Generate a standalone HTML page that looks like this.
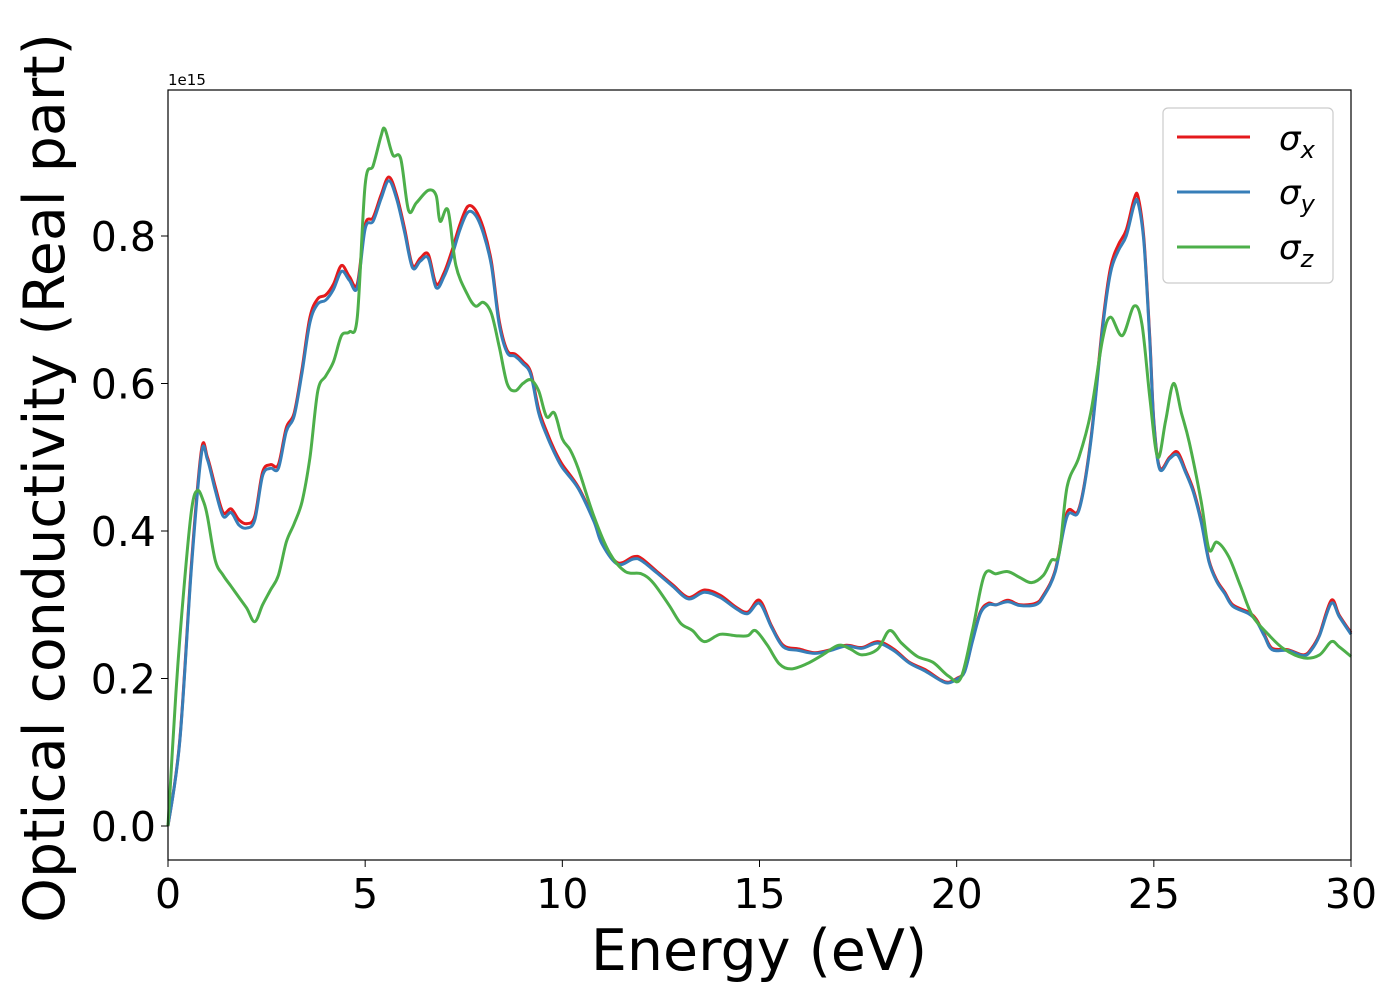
<!DOCTYPE html>
<html><head><meta charset="utf-8"><style>
body{margin:0;background:#fff;}
svg text{font-family:"DejaVu Sans","Liberation Sans",sans-serif;fill:#000;}
</style></head><body>
<svg id="chart" width="1400" height="1000" xmlns="http://www.w3.org/2000/svg">
<rect width="1400" height="1000" fill="#fff"/>
<g id="series"></g>
<rect x="168" y="90" width="1183" height="770" fill="none" stroke="#000" stroke-width="1.2"/>
<g id="xticks"></g>
<g id="yticks"></g>
<text x="168" y="85" font-size="15">1e15</text>
<text x="759" y="970" font-size="57" text-anchor="middle">Energy (eV)</text>
<text transform="translate(64,478) rotate(-90)" font-size="57" text-anchor="middle">Optical conductivity (Real part)</text>
<g>
<rect x="1163" y="108" width="170" height="175" rx="5" fill="#fff" stroke="#ccc" stroke-width="1.2"/>
<line x1="1177" y1="137" x2="1250" y2="137" stroke="#e41a1c" stroke-width="3"/>
<text x="1279" y="150" font-size="34" font-style="italic">σ<tspan font-size="24" dy="8">x</tspan></text>
<line x1="1177" y1="192" x2="1250" y2="192" stroke="#377eb8" stroke-width="3"/>
<text x="1279" y="204" font-size="34" font-style="italic">σ<tspan font-size="24" dy="8">y</tspan></text>
<line x1="1177" y1="247" x2="1250" y2="247" stroke="#4daf4a" stroke-width="3"/>
<text x="1279" y="259" font-size="34" font-style="italic">σ<tspan font-size="24" dy="8">z</tspan></text>
</g>
</svg>
<script>
const xEnergy=[0,0.3,0.6,0.85,1.0,1.2,1.4,1.6,1.8,2.0,2.2,2.4,2.6,2.8,3.0,3.2,3.4,3.6,3.8,4.0,4.2,4.4,4.6,4.8,5.0,5.2,5.4,5.6,5.8,6.0,6.2,6.4,6.6,6.8,7.0,7.2,7.4,7.6,7.8,8.0,8.2,8.4,8.6,8.8,9.0,9.2,9.4,9.6,9.8,10.0,10.4,10.8,11.0,11.4,11.8,12.0,12.4,12.8,13.2,13.6,14.0,14.4,14.7,15.0,15.3,15.6,16.0,16.4,16.8,17.2,17.6,18.0,18.4,18.8,19.2,19.6,19.8,20.0,20.2,20.4,20.6,20.8,21.0,21.3,21.6,22.0,22.2,22.5,22.8,23.1,23.4,23.7,23.9,24.1,24.3,24.5,24.6,24.75,24.9,25.0,25.15,25.4,25.6,25.8,26.0,26.2,26.4,26.6,26.8,27.0,27.4,27.6,27.8,28.0,28.4,28.8,29.0,29.2,29.5,29.7,30.0];
const sigmaX=[0,0.117,0.36,0.51,0.5,0.46,0.425,0.43,0.415,0.41,0.42,0.48,0.49,0.49,0.54,0.56,0.62,0.69,0.715,0.72,0.735,0.76,0.745,0.735,0.815,0.825,0.855,0.88,0.855,0.81,0.76,0.77,0.775,0.735,0.75,0.78,0.815,0.84,0.835,0.81,0.765,0.685,0.645,0.64,0.63,0.615,0.565,0.535,0.51,0.49,0.46,0.415,0.385,0.357,0.365,0.363,0.345,0.327,0.31,0.32,0.313,0.297,0.29,0.306,0.272,0.245,0.24,0.235,0.239,0.245,0.242,0.25,0.24,0.222,0.212,0.198,0.195,0.2,0.21,0.252,0.29,0.302,0.3,0.306,0.3,0.302,0.313,0.347,0.425,0.43,0.523,0.68,0.757,0.788,0.808,0.85,0.853,0.795,0.66,0.55,0.486,0.5,0.507,0.483,0.456,0.415,0.36,0.333,0.317,0.3,0.29,0.28,0.26,0.241,0.239,0.232,0.241,0.26,0.306,0.286,0.262];
const sigmaY=[0,0.115,0.355,0.505,0.497,0.455,0.42,0.425,0.408,0.404,0.415,0.475,0.485,0.485,0.535,0.556,0.615,0.683,0.708,0.713,0.728,0.752,0.74,0.73,0.81,0.82,0.85,0.875,0.85,0.805,0.757,0.766,0.77,0.73,0.745,0.773,0.808,0.832,0.828,0.803,0.76,0.68,0.642,0.637,0.627,0.612,0.56,0.53,0.506,0.486,0.458,0.413,0.383,0.355,0.362,0.36,0.343,0.325,0.308,0.317,0.31,0.295,0.288,0.302,0.27,0.243,0.238,0.234,0.238,0.244,0.241,0.248,0.238,0.221,0.21,0.197,0.194,0.199,0.209,0.25,0.288,0.3,0.3,0.304,0.299,0.3,0.311,0.345,0.42,0.428,0.52,0.675,0.75,0.78,0.8,0.842,0.845,0.79,0.655,0.547,0.484,0.498,0.503,0.48,0.453,0.412,0.358,0.331,0.315,0.298,0.288,0.278,0.258,0.239,0.238,0.231,0.239,0.258,0.302,0.284,0.26];
const zEnergy=[0,0.2,0.4,0.6,0.75,0.9,1.0,1.2,1.4,1.6,1.8,2.0,2.2,2.4,2.6,2.8,3.0,3.2,3.4,3.6,3.8,4.0,4.2,4.4,4.6,4.8,5.0,5.2,5.4,5.5,5.7,5.9,6.1,6.3,6.6,6.8,6.9,7.1,7.3,7.6,7.8,8.0,8.2,8.4,8.6,8.8,9.0,9.2,9.4,9.6,9.8,10.0,10.2,10.4,10.8,11.2,11.6,12.0,12.3,12.7,13.0,13.3,13.6,14.0,14.4,14.7,14.9,15.2,15.5,15.8,16.2,16.6,17.0,17.3,17.6,18.0,18.3,18.6,19.0,19.4,19.8,20.1,20.4,20.7,21.0,21.3,21.6,21.9,22.2,22.4,22.6,22.8,23.1,23.4,23.7,23.9,24.2,24.5,24.7,24.9,25.1,25.3,25.5,25.7,25.9,26.2,26.4,26.6,26.9,27.2,27.5,27.9,28.3,28.8,29.2,29.5,29.7,30.0];
const sigmaZ=[0,0.18,0.32,0.43,0.455,0.44,0.42,0.36,0.34,0.325,0.31,0.295,0.277,0.3,0.32,0.34,0.385,0.41,0.44,0.5,0.59,0.61,0.63,0.665,0.67,0.69,0.87,0.895,0.935,0.945,0.91,0.905,0.835,0.845,0.862,0.855,0.82,0.835,0.76,0.72,0.705,0.71,0.695,0.65,0.6,0.59,0.6,0.605,0.59,0.555,0.56,0.525,0.51,0.485,0.42,0.37,0.345,0.342,0.33,0.3,0.275,0.265,0.25,0.26,0.258,0.258,0.265,0.245,0.22,0.213,0.22,0.232,0.245,0.24,0.232,0.24,0.265,0.248,0.23,0.222,0.203,0.2,0.265,0.34,0.342,0.345,0.337,0.33,0.34,0.36,0.37,0.46,0.5,0.56,0.66,0.69,0.665,0.705,0.68,0.58,0.5,0.55,0.6,0.56,0.52,0.44,0.375,0.385,0.365,0.325,0.285,0.26,0.24,0.228,0.232,0.25,0.243,0.23];
const xTicks=[0,5,10,15,20,25,30];
const yTicks=[0,0.2,0.4,0.6,0.8];
const yTickLabels=["0.0","0.2","0.4","0.6","0.8"];

const NS="http://www.w3.org/2000/svg";
const X0=168,X1=1351,Y0=826,PX_PER=737.5;
function xs(v){return X0+(v-0)/30*(X1-X0);}
function ys(v){return Y0-v*PX_PER;}
function pathFor(xa,ya){
  const p=xa.map((x,i)=>[xs(x),ys(ya[i])]);
  let d="M"+p[0][0].toFixed(1)+","+p[0][1].toFixed(1);
  for(let i=0;i<p.length-1;i++){
    const a=p[Math.max(i-1,0)],b=p[i],c=p[i+1],e=p[Math.min(i+2,p.length-1)];
    const c1=[b[0]+(c[0]-a[0])/6,b[1]+(c[1]-a[1])/6];
    const c2=[c[0]-(e[0]-b[0])/6,c[1]-(e[1]-b[1])/6];
    d+=" C"+c1[0].toFixed(1)+","+c1[1].toFixed(1)+" "+c2[0].toFixed(1)+","+c2[1].toFixed(1)+" "+c[0].toFixed(1)+","+c[1].toFixed(1);
  }
  return d;
}
const sg=document.getElementById("series");
function addLine(xa,ya,color,name){
  const el=document.createElementNS(NS,"path");
  el.setAttribute("d",pathFor(xa,ya));
  el.setAttribute("fill","none");
  el.setAttribute("stroke",color);
  el.setAttribute("stroke-width","3");
  el.setAttribute("stroke-linejoin","round");
  
  
  sg.appendChild(el);
}
addLine(xEnergy,sigmaX,"#e41a1c","sigma-x-line");
addLine(xEnergy,sigmaY,"#377eb8","sigma-y-line");
addLine(zEnergy,sigmaZ,"#4daf4a","sigma-z-line");

const xg=document.getElementById("xticks");
xTicks.forEach(t=>{
  const l=document.createElementNS(NS,"line");
  l.setAttribute("x1",xs(t));l.setAttribute("x2",xs(t));
  l.setAttribute("y1",860);l.setAttribute("y2",867);
  l.setAttribute("stroke","#000");
  
  
  xg.appendChild(l);
  const tx=document.createElementNS(NS,"text");
  tx.setAttribute("x",xs(t));tx.setAttribute("y",908);
  tx.setAttribute("font-size","41");tx.setAttribute("text-anchor","middle");
  tx.textContent=String(t);
  
  
  xg.appendChild(tx);
});
const yg=document.getElementById("yticks");
yTicks.forEach((t,i)=>{
  const l=document.createElementNS(NS,"line");
  l.setAttribute("x1",161);l.setAttribute("x2",168);
  l.setAttribute("y1",ys(t));l.setAttribute("y2",ys(t));
  l.setAttribute("stroke","#000");
  
  
  yg.appendChild(l);
  const tx=document.createElementNS(NS,"text");
  tx.setAttribute("x",156);tx.setAttribute("y",ys(t)+15);
  tx.setAttribute("font-size","41");tx.setAttribute("text-anchor","end");
  tx.textContent=yTickLabels[i];
  
  
  yg.appendChild(tx);
});
</script>
</body></html>
